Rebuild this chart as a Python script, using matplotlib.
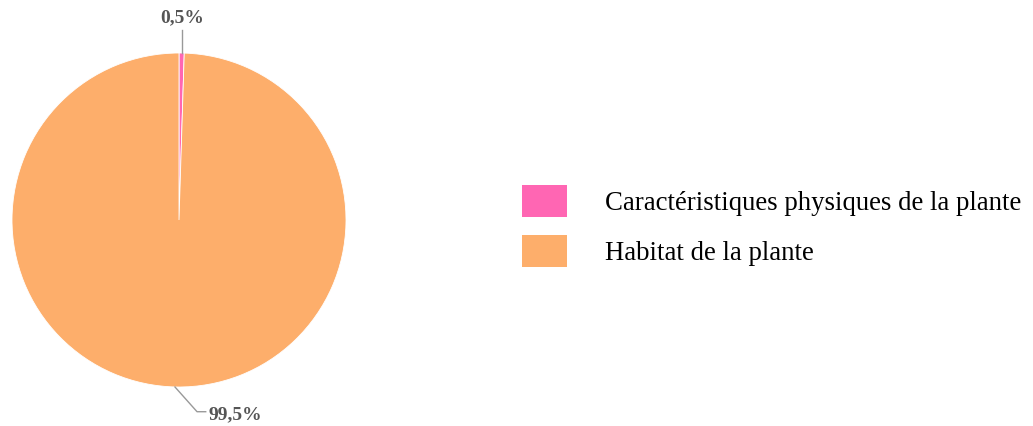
import matplotlib.pyplot as plt
from matplotlib.patches import Patch

# Data
categories = ["Caractéristiques physiques de la plante", "Habitat de la plante"]
values = [0.5, 99.5]
labels = ["0,5%", "99,5%"]
colors = ["#ff66b3", "#fdae6b"]

plt.rcParams["font.family"] = ["Liberation Serif", "DejaVu Serif"]

fig = plt.figure(figsize=(10.33, 4.26), dpi=100)
ax = fig.add_axes([12 / 1033, 39 / 426, 334 / 1033, 334 / 426])

wedges, _ = ax.pie(
    values,
    colors=colors,
    startangle=90,
    counterclock=False,
    radius=1,
    wedgeprops=dict(edgecolor="white", linewidth=0.6),
)
ax.set_xlim(-1, 1)
ax.set_ylim(-1, 1)
ax.set_aspect("equal")

# value labels with leader lines
line_col = "#999999"
txt_col = "#555555"
ax.plot([0.018, 0.018], [1.0, 1.14], color=line_col, lw=1, clip_on=False)
ax.text(0.018, 1.21, labels[0], ha="center", va="center", fontsize=14,
        fontweight="bold", color=txt_col)

ax.plot([-0.024, 0.108, 0.16], [-1.0, -1.148, -1.148], color=line_col, lw=1,
        clip_on=False)
ax.text(0.174, -1.165, labels[1], ha="left", va="center", fontsize=14,
        fontweight="bold", color=txt_col)

# legend
handles = [Patch(facecolor=c, edgecolor="none") for c in colors]
fig.legend(
    handles,
    categories,
    loc="center left",
    bbox_to_anchor=(522 / 1033, 200 / 426),
    frameon=False,
    fontsize=19.3,
    borderpad=0,
    borderaxespad=0,
    handlelength=1.68,
    handleheight=1.45,
    handletextpad=1.4,
    labelspacing=0.69,
)

fig.savefig("out.png", dpi=100)
